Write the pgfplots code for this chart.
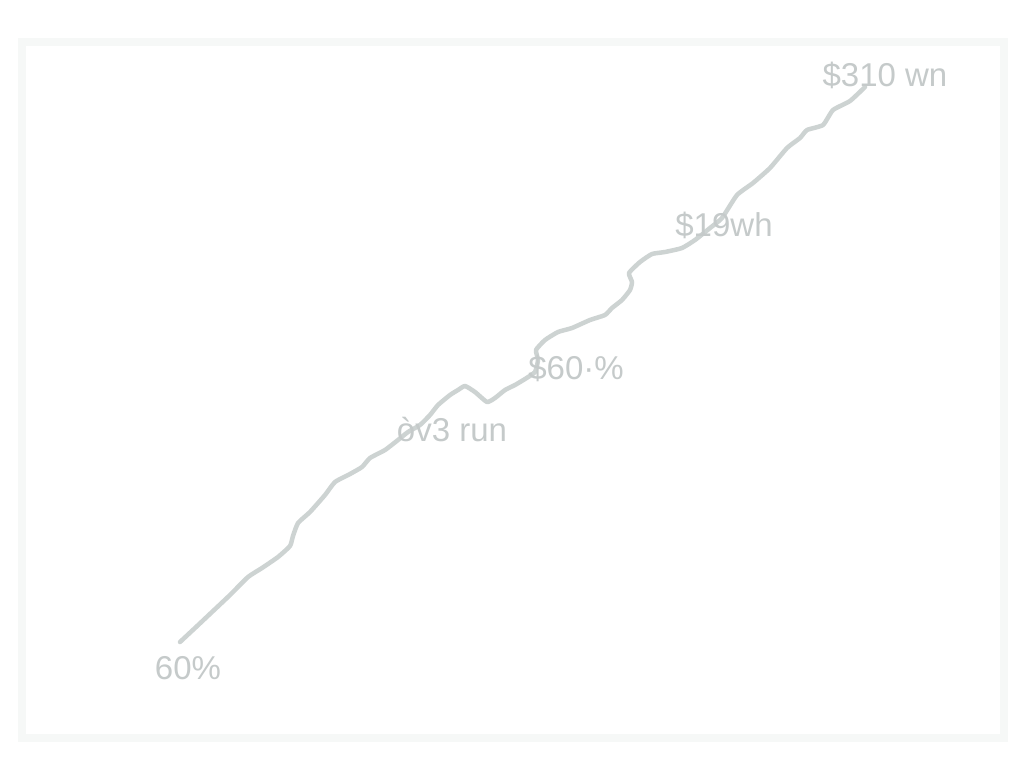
\documentclass[border=0pt]{standalone}
\usepackage{fontspec}
\setmainfont{Liberation Sans}
\usepackage{pgfplots}
\pgfplotsset{compat=1.18}
\definecolor{linegray}{HTML}{CDD3D2}
\definecolor{textgray}{HTML}{C5CACA}
\definecolor{framegray}{HTML}{F6F8F7}
\tikzset{lbl/.style={text=textgray, font=\fontsize{33}{38}\selectfont, inner sep=0pt}}
\begin{document}
\begin{tikzpicture}
\begin{axis}[
    scale only axis,
    width=1024pt, height=768pt,
    xmin=0, xmax=1024, ymin=0, ymax=768,
    y dir=reverse,
    axis lines=none,
    clip=false,
]
% background and faint inner frame
\fill[white] (axis cs:0,0) rectangle (axis cs:1024,768);
\draw[framegray, line width=8pt] (axis cs:22,42) rectangle (axis cs:1004,738);

% the rising line
\addplot[color=linegray, line width=4.5pt, line join=round, line cap=round, smooth, tension=0.3]
coordinates {
(180,642)(195,628)(212,612)(230,595)(248,577)(262,568)(278,557)(290,546)
(293,536)(298,523)(310,512)(325,495)(335,482)(350,474)(362,467)(370,458)
(385,450)(398,440)(408,432)(420,425)(430,415)(438,405)(450,395)(458,390)
(465,386)(475,392)(487,402)(495,398)(505,390)(515,385)(525,379)(535,372)
(538,360)(536,350)(545,340)(558,332)(572,328)(590,320)(605,315)(612,308)
(622,300)(630,290)(632,282)(629,273)(640,262)(652,254)(665,252)(682,248)
(695,240)(710,228)(722,218)(737,195)(753,183)(770,168)(787,148)(800,138)
(807,130)(823,125)(833,110)(850,101)(865,87)
};

\node[lbl] at (axis cs:188,668) {60\%};
\node[lbl] at (axis cs:452,430) {òv3 run};
\node[lbl] at (axis cs:576,368) {\$60·\%};
\node[lbl] at (axis cs:724,225) {\$19wh};
\node[lbl] at (axis cs:885,75) {\$310 wn};
\end{axis}
\end{tikzpicture}
\end{document}
